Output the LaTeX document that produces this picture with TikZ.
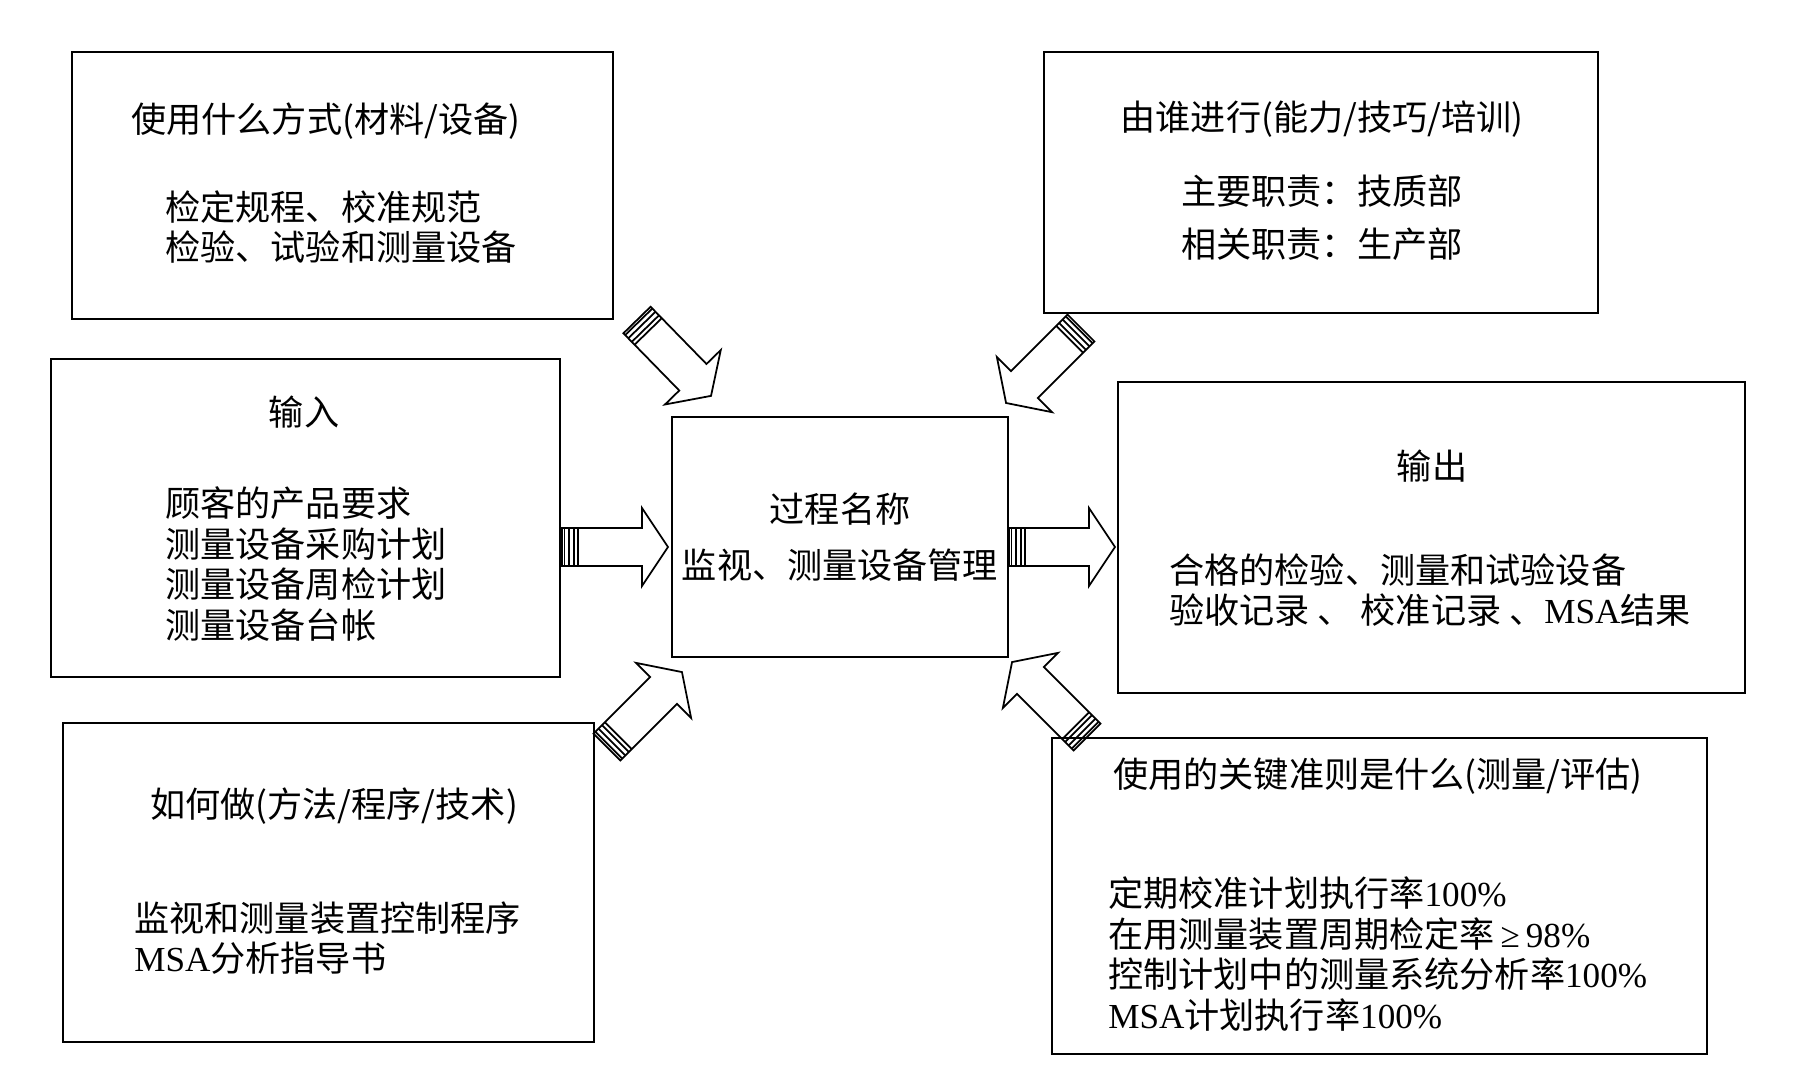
\documentclass[tikz,border=0pt]{standalone}
\usepackage{fontspec}
\setmainfont{Noto Sans CJK SC}
\newfontfamily\latfont{Liberation Serif}
\usepackage{tikz}
\usetikzlibrary{positioning}

% mui ten khoi: goc duoi (tail), goc quay
\newcommand{\fatarrow}[2]{%
  \begin{scope}[shift={#1}, rotate=#2]
    \draw[arrowline] (0,-19) -- (80,-19) -- (80,-39) -- (106,0)
        -- (80,39) -- (80,19) -- (0,19) -- cycle;
    \foreach \s in {2.5,7,12,16}
      \draw[arrowline] (\s,-19) -- (\s,19);
  \end{scope}}

\begin{document}
\begin{tikzpicture}[x=0.02cm, y=-0.02cm,
    boxline/.style={line width=1.5pt},
    arrowline/.style={line width=1pt, line join=miter},
    txt/.style={inner sep=0pt, font=\fontsize{20pt}{23pt}\selectfont},
    body/.style={txt, align=left, anchor=west}]

    \useasboundingbox (0,0) rectangle (1813,1090);

    % =================================================================
    % 1. CAC KHUNG
    % =================================================================
    \draw[boxline] (72,52) rectangle (613,319);     % vat lieu
    \draw[boxline] (1044,52) rectangle (1598,313);  % ai lam
    \draw[boxline] (51,359) rectangle (560,677);    % dau vao
    \draw[boxline] (672,417) rectangle (1008,657);  % qua trinh
    \draw[boxline] (1118,382) rectangle (1745,693); % dau ra
    \draw[boxline] (63,723) rectangle (594,1042);   % cach lam
    \draw[boxline] (1052,738) rectangle (1707,1054);% chuan muc

    % =================================================================
    % 2. CHU TRONG KHUNG
    % =================================================================
    \node[txt, anchor=west] (matT) at (131,121) {使用什么方式(材料/设备)};
    \node[body] (matB) at (165,227) {检定规程、校准规范\\检验、试验和测量设备};

    \node[txt] (whoT) at (1322,119) {由谁进行(能力/技巧/培训)};
    \node[body] (whoB) at (1181,218) {主要职责：技质部\\[7pt]相关职责：生产部};

    \node[txt] (inT) at (304,412) {输入};
    \node[body] (inB) at (165,564) {顾客的产品要求\\测量设备采购计划\\测量设备周检计划\\测量设备台帐};

    \node[txt] (procT) at (840,509) {过程名称};
    \node[txt] (procB) at (840,565) {监视、测量设备管理};

    \node[txt] (outT) at (1432,466) {输出};
    \node[body] (outB) at (1169,590) {合格的检验、测量和试验设备\\验收记录 、 校准记录 、{\latfont MSA}结果};

    \node[txt, anchor=west] (howT) at (150,806) {如何做(方法/程序/技术)};
    \node[body] (howB) at (134,938) {监视和测量装置控制程序\\{\latfont MSA}分析指导书};

    \node[txt, anchor=west] (keyT) at (1113,776) {使用的关键准则是什么(测量/评估)};
    \node[body] (keyB) at (1108,954) {定期校准计划执行率{\latfont 100\%}\\在用测量装置周期检定率{\latfont\,≥\,98\%}\\控制计划中的测量系统分析率{\latfont 100\%}\\{\latfont MSA}计划执行率{\latfont 100\%}};

    % =================================================================
    % 3. MUI TEN KHOI
    % =================================================================
    \fatarrow{(637,320)}{-45.7}
    \fatarrow{(1081,328)}{-135}
    \fatarrow{(562,547)}{0}
    \fatarrow{(1009,547)}{0}
    \fatarrow{(607,747)}{45}
    \fatarrow{(1087,737)}{135}

\end{tikzpicture}
\end{document}
